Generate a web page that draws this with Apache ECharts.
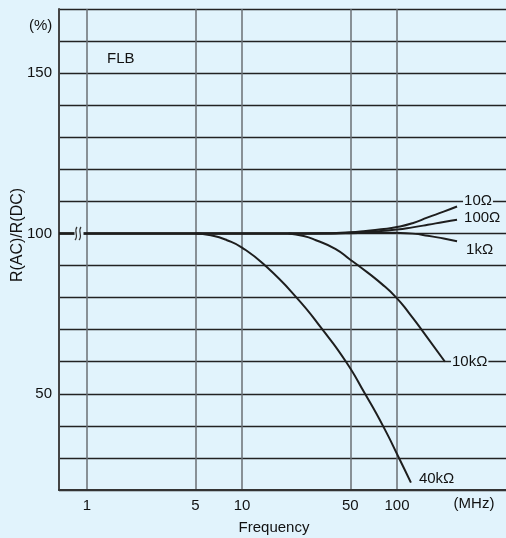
<!DOCTYPE html>
<html>
<head>
<meta charset="utf-8">
<script src="https://cdn.jsdelivr.net/npm/echarts@6/dist/echarts.min.js"></script>
<style>
html,body{margin:0;padding:0;background:#e1f3fc;}
#c{width:506px;height:538px;}
</style>
</head>
<body>
<div id="c"></div>
<script>
// Frequency ticks (MHz)
const xTicks = [1, 5, 10, 50, 100];
const yLabels = [50, 100, 150];

const fLow = [0.66, 3, 10, 20, 31.6, 50, 63, 79, 100, 126, 158, 200, 244];
const v10  = [100, 100, 100, 100, 100.05, 100.4, 100.8, 101.3, 102, 103.2, 105, 106.8, 108.4];
const v100 = [100, 100, 100, 100, 100, 100.2, 100.45, 100.8, 101.2, 101.9, 102.7, 103.6, 104.3];
const v1k  = [100, 100, 100, 100, 100, 100.1, 100.2, 100.25, 100.2, 99.95, 99.3, 98.4, 97.6];

const f10k = [20, 25, 30, 40, 50, 56.3, 80, 99, 120, 144, 204];
const v10k = [100, 99.2, 97.9, 95.2, 91.8, 90, 84.2, 80, 75.1, 70, 60];

const f40k = [5, 6.3, 8, 10, 14.1, 22.5, 33.1, 46.9, 62.2, 81.2, 103, 123];
const v40k = [100, 99.4, 97.9, 95.6, 90, 80, 70, 60, 50, 40, 30, 22.3];

const seriesNames = ['10Ω', '100Ω', '1kΩ', '10kΩ', '40kΩ'];

const BG = '#e1f3fc';
const FONT = 'Liberation Sans, Arial, sans-serif';

function pairs(xs, ys) { return xs.map((x, i) => [x, ys[i]]); }

function mk(name, data, offset) {
  return {
    name: name,
    type: 'line',
    data: data,
    smooth: 0.55,
    symbol: 'none',
    lineStyle: { color: '#1e1e1e', width: 2 },
    endLabel: {
      show: true,
      formatter: name,
      offset: offset,
      color: '#111',
      fontSize: 15,
      fontFamily: FONT,
      backgroundColor: BG,
      padding: [0, 1]
    },
    animation: false
  };
}

const chart = echarts.init(document.getElementById('c'));
chart.setOption({
  backgroundColor: BG,
  animation: false,
  grid: { left: 59, right: 0, top: 9, bottom: 48, containLabel: false },
  xAxis: {
    type: 'log',
    min: 0.66,
    max: 505,
    logBase: 10,
    axisLine: { show: true, lineStyle: { color: '#333', width: 2 } },
    axisTick: { show: false, customValues: xTicks },
    axisLabel: {
      customValues: xTicks,
      color: '#111', fontSize: 15, fontFamily: FONT, margin: 8,
      formatter: v => String(v)
    },
    splitLine: { show: true, lineStyle: { color: '#6a6f74', width: 1.5 } }
  },
  yAxis: {
    type: 'value',
    min: 20,
    max: 170,
    interval: 10,
    axisLine: { show: true, lineStyle: { color: '#444', width: 2 } },
    axisTick: { show: false },
    axisLabel: {
      customValues: yLabels,
      color: '#111', fontSize: 15, fontFamily: FONT, margin: 7
    },
    splitLine: { show: true, lineStyle: { color: '#222', width: 1.3 } }
  },
  series: [
    mk(seriesNames[0], pairs(fLow, v10), [-2, -6]),
    mk(seriesNames[1], pairs(fLow, v100), [-2, -2]),
    mk(seriesNames[2], pairs(fLow, v1k), [0, 9]),
    mk(seriesNames[3], pairs(f10k, v10k), [-2, 0]),
    mk(seriesNames[4], pairs(f40k, v40k), [-1, -4])
  ],
  graphic: [
    { type: 'text', left: 29, top: 18, style: { text: '(%)', fontSize: 15, fontFamily: FONT, fill: '#111' } },
    { type: 'text', left: 107, top: 51, style: { text: 'FLB', fontSize: 15, fontFamily: FONT, fill: '#111' } },
    { type: 'text', x: 18, y: 235, rotation: Math.PI / 2, style: { text: 'R(AC)/R(DC)', fontSize: 16, fontFamily: FONT, fill: '#111', align: 'center', verticalAlign: 'middle' } },
    { type: 'text', x: 274, y: 528, style: { text: 'Frequency', fontSize: 15, fontFamily: FONT, fill: '#111', align: 'center', verticalAlign: 'middle' } },
    { type: 'text', x: 474, y: 504, style: { text: '(MHz)', fontSize: 15, fontFamily: FONT, fill: '#111', align: 'center', verticalAlign: 'middle' } },
    { type: 'rect', shape: { x: 74.5, y: 230.5, width: 9, height: 5 }, style: { fill: BG }, z: 100 },
    { type: 'bezierCurve', shape: { x1: 75, y1: 240, cpx1: 79, cpy1: 236, cpx2: 73.5, cpy2: 231, x2: 77, y2: 227 }, style: { stroke: '#333', lineWidth: 1.2, fill: null }, z: 101 },
    { type: 'bezierCurve', shape: { x1: 79, y1: 240, cpx1: 83, cpy1: 236, cpx2: 77.5, cpy2: 231, x2: 81, y2: 227 }, style: { stroke: '#333', lineWidth: 1.2, fill: null }, z: 101 }
  ]
});
</script>
</body>
</html>
